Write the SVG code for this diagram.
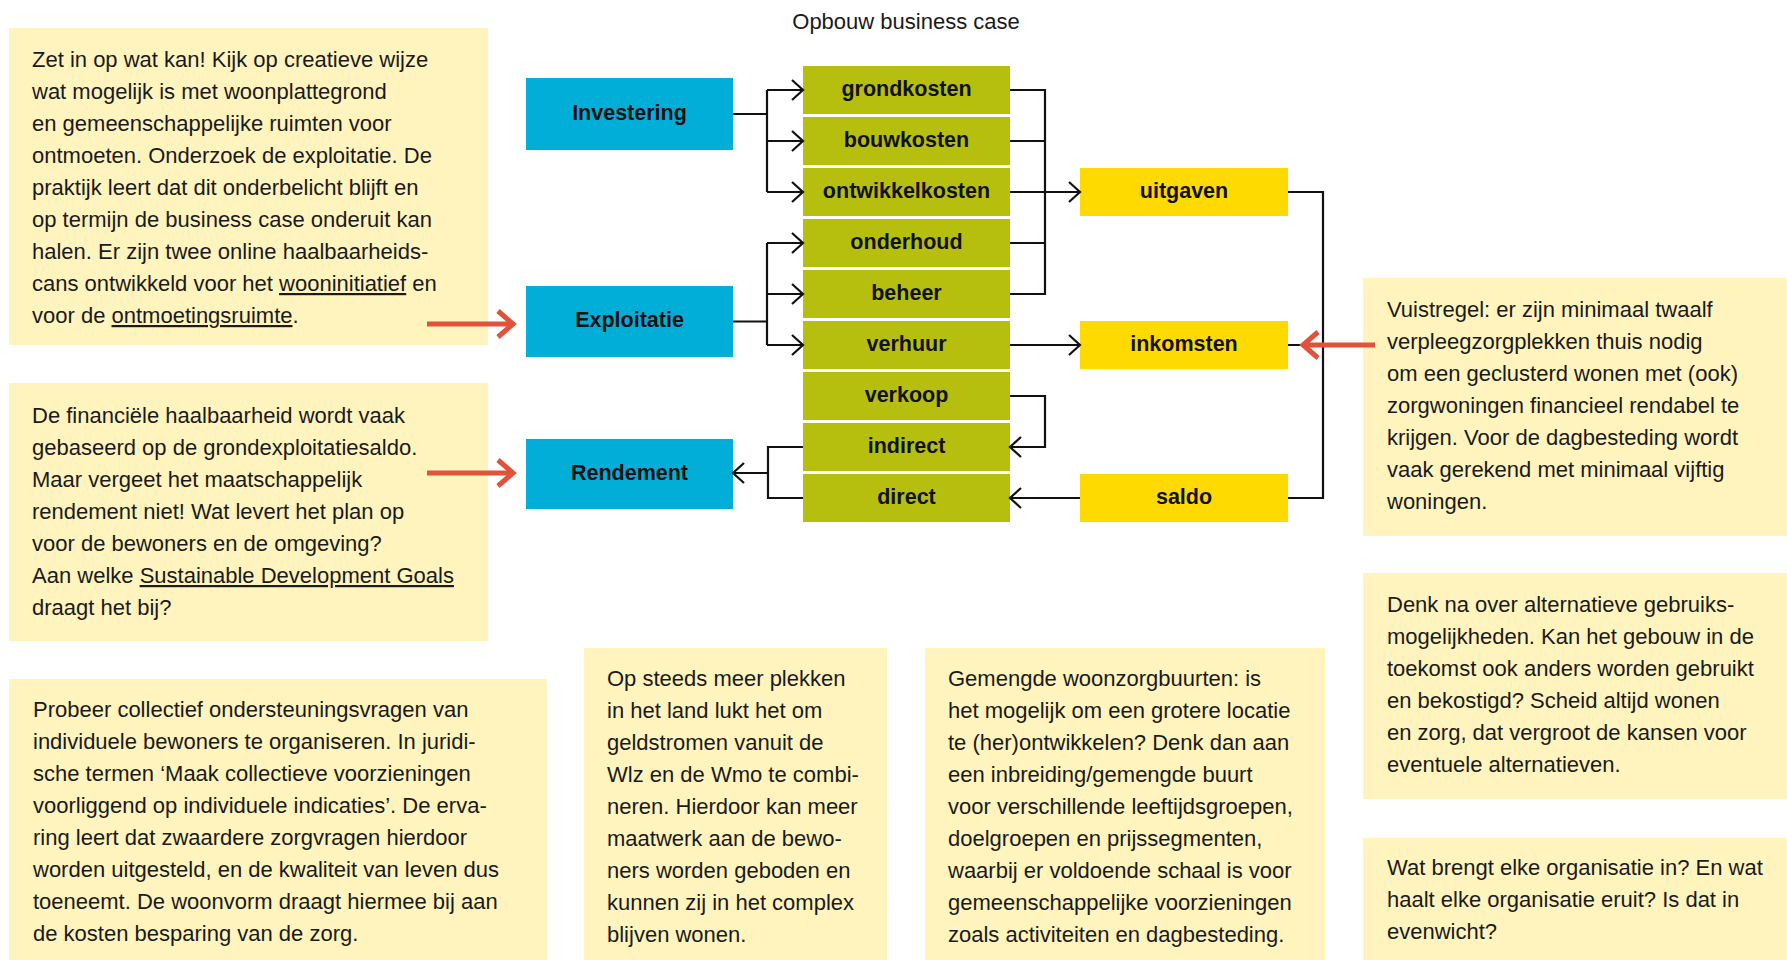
<svg xmlns="http://www.w3.org/2000/svg" width="1787" height="960" viewBox="0 0 1787 960">
<style>
.note{fill:#FFF4BE}
.body{font-family:"Liberation Sans",Arial,sans-serif;font-size:22px;fill:#1a1a1a}
.lbl{font-family:"Liberation Sans",Arial,sans-serif;font-size:21.5px;font-weight:bold;fill:#111;text-anchor:middle}
.blue{fill:#00AED8}
.green{fill:#B6BF0E}
.yel{fill:#FFDA00}
.con{fill:none;stroke:#111;stroke-width:2.2}
.red{fill:none;stroke:#E2513B;stroke-width:5}
.u{text-decoration:underline}
</style>
<defs>
<marker id="ah" markerUnits="userSpaceOnUse" viewBox="-14 -12 16 24" refX="0" refY="0" markerWidth="16" markerHeight="24" orient="auto">
<path d="M-11,-10 L0,0 L-11,10" fill="none" stroke="#111" stroke-width="2.2"/>
</marker>
<marker id="rh" markerUnits="userSpaceOnUse" viewBox="-20 -16 24 32" refX="0" refY="0" markerWidth="24" markerHeight="32" orient="auto">
<path d="M-15,-13 L0,0 L-15,13" fill="none" stroke="#E2513B" stroke-width="5"/>
</marker>
</defs>
<rect width="1787" height="960" fill="#fff"/>
<text x="906" y="29" class="body" text-anchor="middle">Opbouw business case</text>

<g id="note1">
<rect class="note" x="9" y="28" width="479" height="317"/>
<text class="body" x="32" y="67">
<tspan x="32">Zet in op wat kan! Kijk op creatieve wijze</tspan>
<tspan x="32" dy="32">wat mogelijk is met woonplattegrond</tspan>
<tspan x="32" dy="32">en gemeenschappelijke ruimten voor</tspan>
<tspan x="32" dy="32">ontmoeten. Onderzoek de exploitatie. De</tspan>
<tspan x="32" dy="32">praktijk leert dat dit onderbelicht blijft en</tspan>
<tspan x="32" dy="32">op termijn de business case onderuit kan</tspan>
<tspan x="32" dy="32">halen. Er zijn twee online haalbaarheids-</tspan>
<tspan x="32" dy="32">cans ontwikkeld voor het <tspan class="u">wooninitiatief</tspan> en</tspan>
<tspan x="32" dy="32">voor de <tspan class="u">ontmoetingsruimte</tspan>.</tspan>
</text>
</g>

<g id="note2">
<rect class="note" x="9" y="383" width="479" height="258"/>
<text class="body" x="32" y="423">
<tspan x="32">De financiële haalbaarheid wordt vaak</tspan>
<tspan x="32" dy="32">gebaseerd op de grondexploitatiesaldo.</tspan>
<tspan x="32" dy="32">Maar vergeet het maatschappelijk</tspan>
<tspan x="32" dy="32">rendement niet! Wat levert het plan op</tspan>
<tspan x="32" dy="32">voor de bewoners en de omgeving?</tspan>
<tspan x="32" dy="32">Aan welke <tspan class="u">Sustainable Development Goals</tspan></tspan>
<tspan x="32" dy="32">draagt het bij?</tspan>
</text>
</g>

<g id="note3">
<rect class="note" x="1363" y="278" width="424" height="258"/>
<text class="body" x="1387" y="317">
<tspan x="1387">Vuistregel: er zijn minimaal twaalf</tspan>
<tspan x="1387" dy="32">verpleegzorgplekken thuis nodig</tspan>
<tspan x="1387" dy="32">om een geclusterd wonen met (ook)</tspan>
<tspan x="1387" dy="32">zorgwoningen financieel rendabel te</tspan>
<tspan x="1387" dy="32">krijgen. Voor de dagbesteding wordt</tspan>
<tspan x="1387" dy="32">vaak gerekend met minimaal vijftig</tspan>
<tspan x="1387" dy="32">woningen.</tspan>
</text>
</g>

<g id="note4">
<rect class="note" x="9" y="679" width="538" height="281"/>
<text class="body" x="33" y="717">
<tspan x="33">Probeer collectief ondersteuningsvragen van</tspan>
<tspan x="33" dy="32">individuele bewoners te organiseren. In juridi-</tspan>
<tspan x="33" dy="32">sche termen ‘Maak collectieve voorzieningen</tspan>
<tspan x="33" dy="32">voorliggend op individuele indicaties’. De erva-</tspan>
<tspan x="33" dy="32">ring leert dat zwaardere zorgvragen hierdoor</tspan>
<tspan x="33" dy="32">worden uitgesteld, en de kwaliteit van leven dus</tspan>
<tspan x="33" dy="32">toeneemt. De woonvorm draagt hiermee bij aan</tspan>
<tspan x="33" dy="32">de kosten besparing van de zorg.</tspan>
</text>
</g>

<g id="note5">
<rect class="note" x="584" y="648" width="303" height="312"/>
<text class="body" x="607" y="686">
<tspan x="607">Op steeds meer plekken</tspan>
<tspan x="607" dy="32">in het land lukt het om</tspan>
<tspan x="607" dy="32">geldstromen vanuit de</tspan>
<tspan x="607" dy="32">Wlz en de Wmo te combi-</tspan>
<tspan x="607" dy="32">neren. Hierdoor kan meer</tspan>
<tspan x="607" dy="32">maatwerk aan de bewo-</tspan>
<tspan x="607" dy="32">ners worden geboden en</tspan>
<tspan x="607" dy="32">kunnen zij in het complex</tspan>
<tspan x="607" dy="32">blijven wonen.</tspan>
</text>
</g>

<g id="note6">
<rect class="note" x="925" y="648" width="400" height="312"/>
<text class="body" x="948" y="686">
<tspan x="948">Gemengde woonzorgbuurten: is</tspan>
<tspan x="948" dy="32">het mogelijk om een grotere locatie</tspan>
<tspan x="948" dy="32">te (her)ontwikkelen? Denk dan aan</tspan>
<tspan x="948" dy="32">een inbreiding/gemengde buurt</tspan>
<tspan x="948" dy="32">voor verschillende leeftijdsgroepen,</tspan>
<tspan x="948" dy="32">doelgroepen en prijssegmenten,</tspan>
<tspan x="948" dy="32">waarbij er voldoende schaal is voor</tspan>
<tspan x="948" dy="32">gemeenschappelijke voorzieningen</tspan>
<tspan x="948" dy="32">zoals activiteiten en dagbesteding.</tspan>
</text>
</g>

<g id="note7">
<rect class="note" x="1363" y="573" width="424" height="226"/>
<text class="body" x="1387" y="612">
<tspan x="1387">Denk na over alternatieve gebruiks-</tspan>
<tspan x="1387" dy="32">mogelijkheden. Kan het gebouw in de</tspan>
<tspan x="1387" dy="32">toekomst ook anders worden gebruikt</tspan>
<tspan x="1387" dy="32">en bekostigd? Scheid altijd wonen</tspan>
<tspan x="1387" dy="32">en zorg, dat vergroot de kansen voor</tspan>
<tspan x="1387" dy="32">eventuele alternatieven.</tspan>
</text>
</g>

<g id="note8">
<rect class="note" x="1363" y="838" width="424" height="122"/>
<text class="body" x="1387" y="875">
<tspan x="1387">Wat brengt elke organisatie in? En wat</tspan>
<tspan x="1387" dy="32">haalt elke organisatie eruit? Is dat in</tspan>
<tspan x="1387" dy="32">evenwicht?</tspan>
</text>
</g>

<g id="investering"><rect class="blue" x="526" y="78" width="207" height="72"/><text class="lbl" x="629.5" y="119.5">Investering</text></g>
<g id="exploitatie"><rect class="blue" x="526" y="286" width="207" height="71"/><text class="lbl" x="629.5" y="327">Exploitatie</text></g>
<g id="rendement"><rect class="blue" x="526" y="439" width="207" height="70"/><text class="lbl" x="629.5" y="479.5">Rendement</text></g>

<g id="grondkosten"><rect class="green" x="803" y="66" width="207" height="48"/><text class="lbl" x="906.5" y="95.5">grondkosten</text></g>
<g id="bouwkosten"><rect class="green" x="803" y="117" width="207" height="48"/><text class="lbl" x="906.5" y="146.5">bouwkosten</text></g>
<g id="ontwikkelkosten"><rect class="green" x="803" y="168" width="207" height="48"/><text class="lbl" x="906.5" y="197.5">ontwikkelkosten</text></g>
<g id="onderhoud"><rect class="green" x="803" y="219" width="207" height="48"/><text class="lbl" x="906.5" y="248.5">onderhoud</text></g>
<g id="beheer"><rect class="green" x="803" y="270" width="207" height="48"/><text class="lbl" x="906.5" y="299.5">beheer</text></g>
<g id="verhuur"><rect class="green" x="803" y="321" width="207" height="48"/><text class="lbl" x="906.5" y="350.5">verhuur</text></g>
<g id="verkoop"><rect class="green" x="803" y="372" width="207" height="48"/><text class="lbl" x="906.5" y="401.5">verkoop</text></g>
<g id="indirect"><rect class="green" x="803" y="423" width="207" height="48"/><text class="lbl" x="906.5" y="452.5">indirect</text></g>
<g id="direct"><rect class="green" x="803" y="474" width="207" height="48"/><text class="lbl" x="906.5" y="503.5">direct</text></g>

<g id="uitgaven"><rect class="yel" x="1080" y="168" width="208" height="48"/><text class="lbl" x="1184" y="197.5">uitgaven</text></g>
<g id="inkomsten"><rect class="yel" x="1080" y="321" width="208" height="48"/><text class="lbl" x="1184" y="350.5">inkomsten</text></g>
<g id="saldo"><rect class="yel" x="1080" y="474" width="208" height="48"/><text class="lbl" x="1184" y="503.5">saldo</text></g>

<g id="connectors">
<path class="con" d="M733,114 H767 M767,90 V192"/>
<path class="con" d="M767,90 H803" marker-end="url(#ah)"/>
<path class="con" d="M767,141 H803" marker-end="url(#ah)"/>
<path class="con" d="M767,192 H803" marker-end="url(#ah)"/>
<path class="con" d="M733,321.5 H767 M767,243 V345"/>
<path class="con" d="M767,243 H803" marker-end="url(#ah)"/>
<path class="con" d="M767,294 H803" marker-end="url(#ah)"/>
<path class="con" d="M767,345 H803" marker-end="url(#ah)"/>
<path class="con" d="M1010,90 H1045 V294 H1010 M1010,141 H1045 M1010,243 H1045"/>
<path class="con" d="M1010,192 H1080" marker-end="url(#ah)"/>
<path class="con" d="M1010,345 H1080" marker-end="url(#ah)"/>
<path class="con" d="M1010,396 H1045 V447 H1010" marker-end="url(#ah)"/>
<path class="con" d="M803,447 H768 V498 H803"/>
<path class="con" d="M768,473 H733" marker-end="url(#ah)"/>
<path class="con" d="M1080,498 H1010" marker-end="url(#ah)"/>
<path class="con" d="M1288,192 H1323 V498 H1288 M1288,345 H1323"/>
<path class="red" d="M427,324 H513" marker-end="url(#rh)"/>
<path class="red" d="M427,473 H513" marker-end="url(#rh)"/>
<path class="red" d="M1375,345 H1303" marker-end="url(#rh)"/>
</g>
</svg>
